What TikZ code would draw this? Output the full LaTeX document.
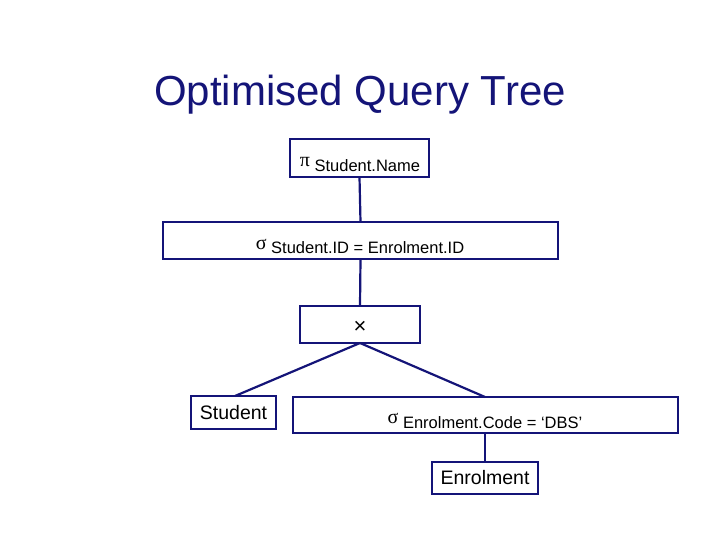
\documentclass[tikz,border=0pt]{standalone}
\usepackage{fontspec}
\setmainfont{Liberation Sans}
\newfontfamily\symf{Liberation Serif}
\begin{document}
\begin{tikzpicture}[x=1pt,y=-1pt,
  box/.style={draw=navy,line width=2.5pt,minimum height=#1,inner sep=0pt,outer sep=0pt},
  ln/.style={draw=navy,line width=2.2pt},
  lbl/.style={font=\fontsize{16.5}{18}\selectfont,anchor=base}]
\definecolor{navy}{RGB}{20,20,120}
\useasboundingbox (0,0) rectangle (720,540);
\node[text=navy,font=\fontsize{42}{46}\selectfont] (title) at (360,95) {Optimised Query Tree};
\node[box=38pt,minimum width=139pt] (pi) at (359.5,158) {};
\node[lbl] (pil) at (360,172) {\raisebox{5pt}{\symf\fontsize{20}{20}\selectfont π} Student.Name};
\node[box=37pt,minimum width=395pt] (s1) at (360.5,240.5) {};
\node[lbl] (s1l) at (360,254) {\raisebox{5pt}{\symf\fontsize{20}{20}\selectfont σ} Student.ID = Enrolment.ID};
\node[box=37pt,minimum width=120pt] (x) at (360,324.5) {};
\node[font=\fontsize{22}{22}\selectfont] (xl) at (360,327) {×};
\node[box=33pt,minimum width=85pt,font=\fontsize{19.5}{22}\selectfont] (st) at (233.5,412.5) {Student};
\node[box=36pt,minimum width=385pt] (s2) at (485.5,415) {};
\node[lbl] (s2l) at (485,428) {\raisebox{5pt}{\symf\fontsize{20}{20}\selectfont σ} Enrolment.Code = `DBS'};
\node[box=32pt,minimum width=106pt,font=\fontsize{19.5}{22}\selectfont] (en) at (485,478) {Enrolment};
\coordinate (sl) at (235,396);
\coordinate (sr) at (485,397);
\coordinate (eb) at (485,433);
\draw[ln] (pi.south) -- (s1.north);
\draw[ln] (s1.south) -- (x.north);
\draw[ln] (x.south) -- (sl);
\draw[ln] (x.south) -- (sr);
\draw[ln] (eb) -- (en.north);
\end{tikzpicture}
\end{document}
